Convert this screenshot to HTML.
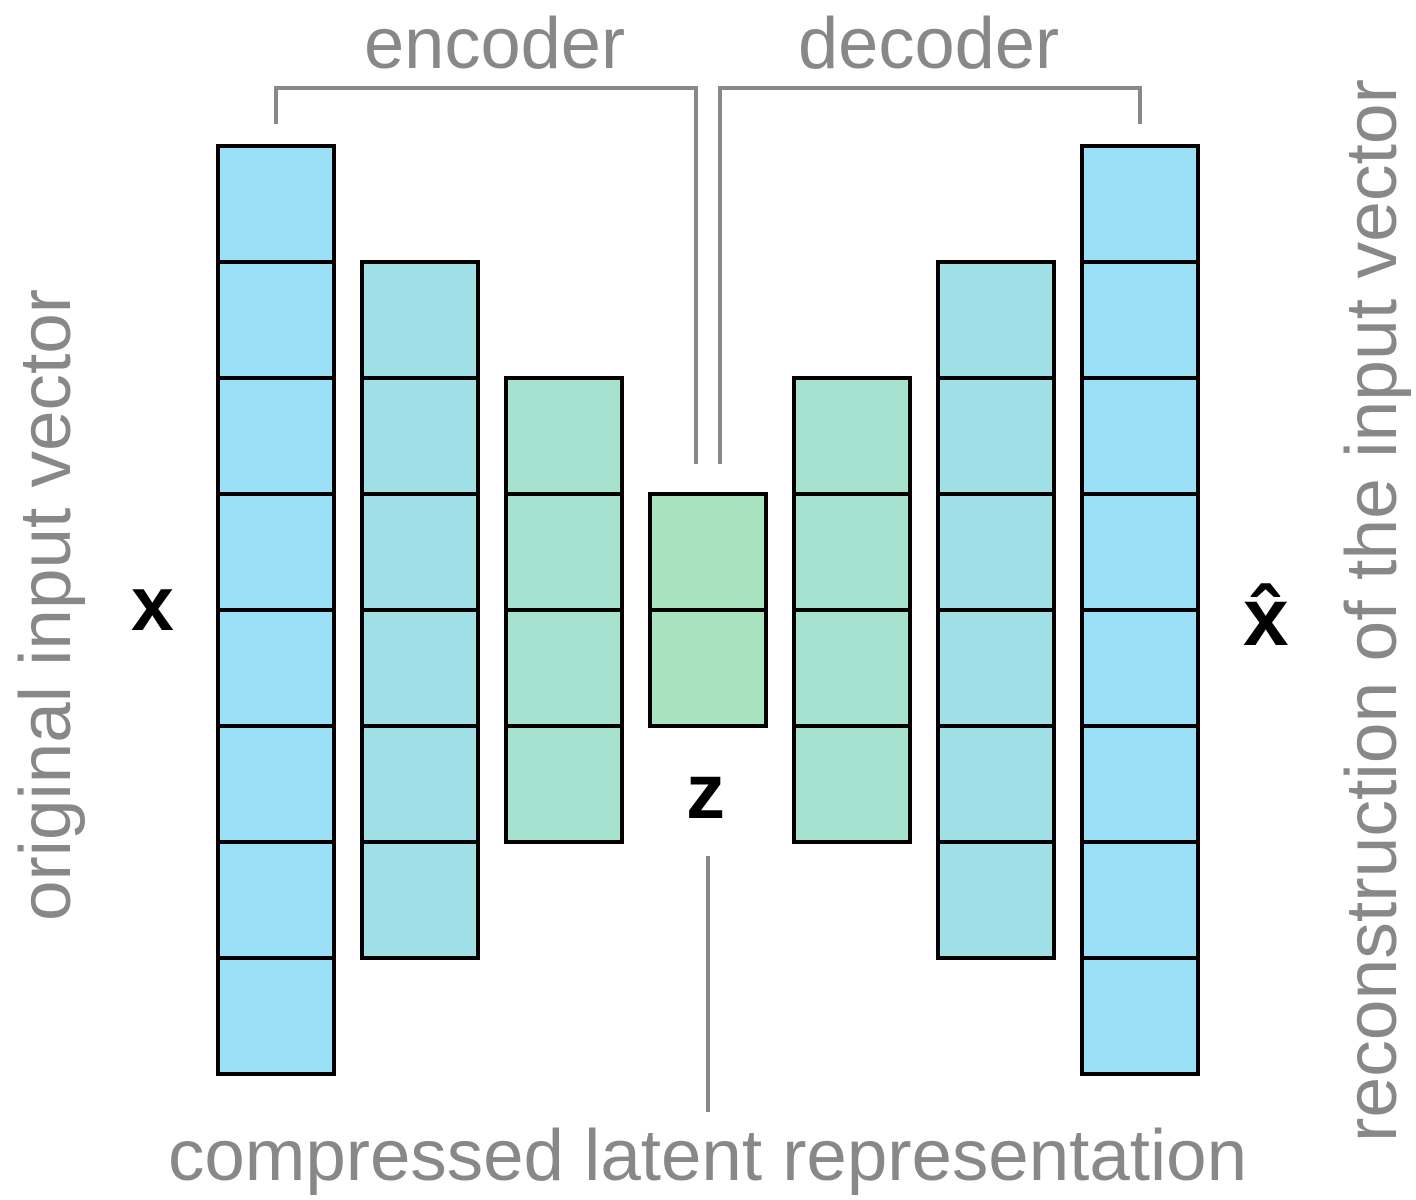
<!DOCTYPE html>
<html lang="en">
<head>
<meta charset="utf-8">
<title>Autoencoder architecture</title>
<style>
html,body{margin:0;padding:0;background:#fff;width:1416px;height:1200px;overflow:hidden}
svg{display:block}
.note{font-family:"Liberation Sans",sans-serif;font-size:72px;fill:#888}
.sym{font-family:"Liberation Sans","DejaVu Sans",sans-serif;font-weight:bold;fill:#000}
.brk{fill:none;stroke:#888;stroke-width:4}
</style>
</head>
<body>
<svg id="diagram" xmlns="http://www.w3.org/2000/svg" width="1416" height="1200" viewBox="0 0 1416 1200">
  <rect width="1416" height="1200" fill="#fff"/>
  <g id="layers"></g>
  <path class="brk" d="M276 124V88H696V464"/>
  <path class="brk" d="M720 464V88H1140V124"/>
  <path class="brk" d="M708 856V1112"/>
  <text class="note" x="364" y="68" textLength="261" lengthAdjust="spacingAndGlyphs">encoder</text>
  <text class="note" x="798" y="68" textLength="261" lengthAdjust="spacingAndGlyphs">decoder</text>
  <text class="note" x="168" y="1180" textLength="1079" lengthAdjust="spacingAndGlyphs">compressed latent representation</text>
  <text class="note" transform="translate(70 921) rotate(-90)" textLength="632" lengthAdjust="spacingAndGlyphs">original input vector</text>
  <text class="note" transform="translate(1396 1142) rotate(-90)" textLength="1063" lengthAdjust="spacingAndGlyphs">reconstruction of the input vector</text>
  <text class="sym" x="131" y="630" font-size="77">x</text>
  <text class="sym" x="686" y="818" font-size="78">z</text>
  <text class="sym" x="1243" y="645" font-size="82">x&#770;</text>
</svg>
<script>
const layerNames = ['input', 'encoder-1', 'encoder-2', 'latent', 'decoder-1', 'decoder-2', 'output'];
const layerCells = [8, 6, 4, 2, 4, 6, 8];
const layerColors = ['#9be0f7', '#9fe0e6', '#a5e2cf', '#a9e2bf', '#a5e2cf', '#9fe0e6', '#9be0f7'];

const columnX = i => 218 + 144 * i;
const cellWidth = 116;
const cellHeight = 116;
const centerY = 610;
const cellY = (count, j) => centerY - count * cellHeight / 2 + j * cellHeight;

const NS = 'http://www.w3.org/2000/svg';
const root = document.getElementById('layers');
layerCells.forEach((count, i) => {
  const group = document.createElementNS(NS, 'g');
  
  
  for (let j = 0; j < count; j++) {
    const cell = document.createElementNS(NS, 'rect');
    
    
    cell.setAttribute('x', columnX(i));
    cell.setAttribute('y', cellY(count, j));
    cell.setAttribute('width', cellWidth);
    cell.setAttribute('height', cellHeight);
    cell.setAttribute('fill', layerColors[i]);
    cell.setAttribute('stroke', '#000');
    cell.setAttribute('stroke-width', '4');
    group.appendChild(cell);
  }
  root.appendChild(group);
});
</script>
</body>
</html>
